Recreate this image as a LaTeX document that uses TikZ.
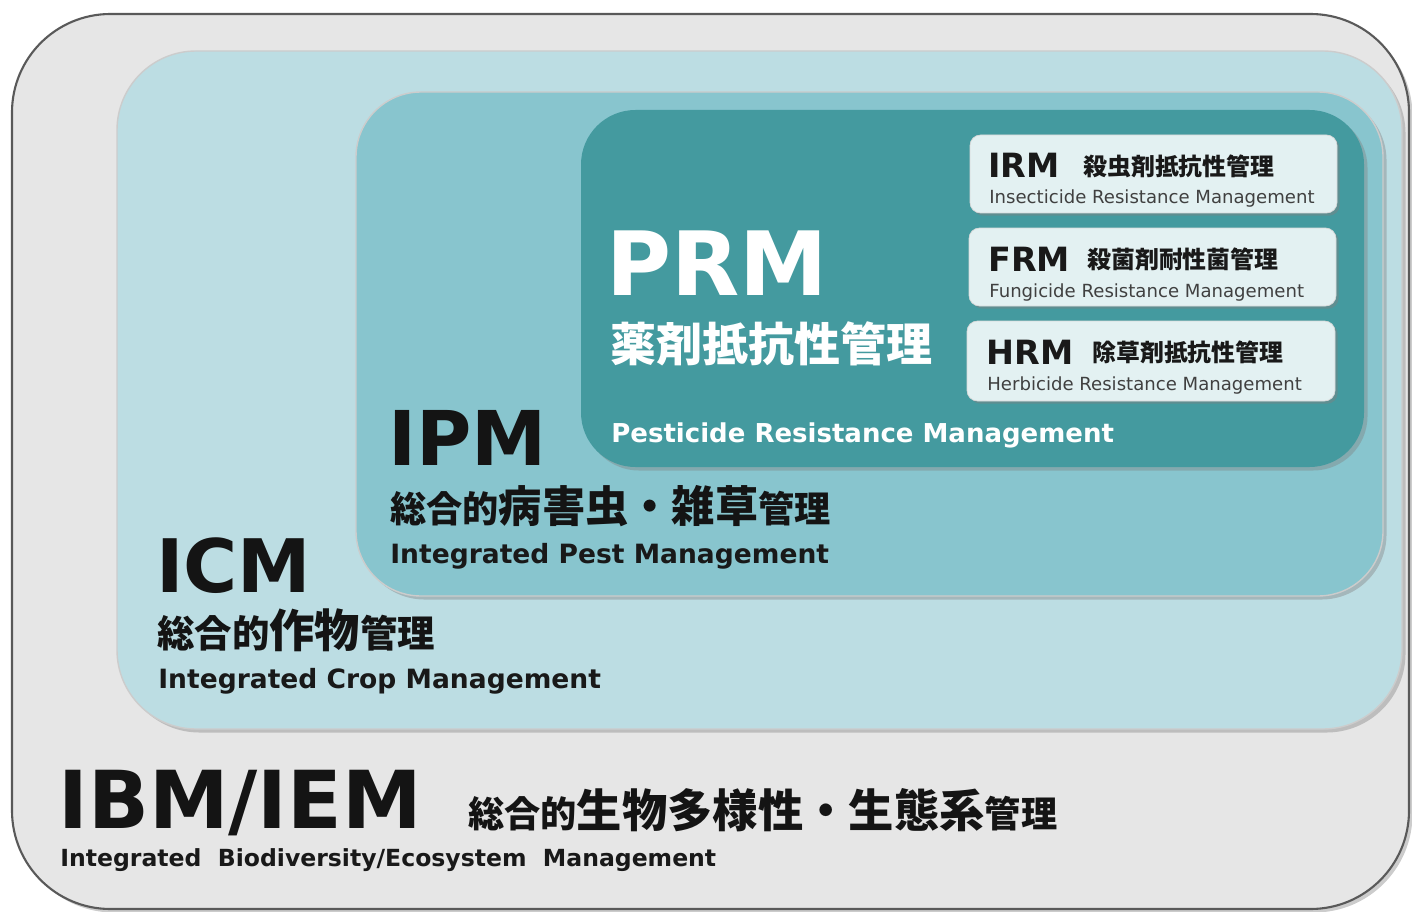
\documentclass[tikz,border=0pt]{standalone}
\usepackage{fontspec}
\setmainfont{DejaVu Sans}
\newfontfamily\jp{Noto Sans CJK JP}
\usetikzlibrary{shadows}

\definecolor{outerfill}{HTML}{E6E6E6}
\definecolor{icmfill}{HTML}{BCDDE3}
\definecolor{ipmfill}{HTML}{88C5CE}
\definecolor{prmfill}{HTML}{449A9F}
\definecolor{tagfill}{HTML}{E3F1F2}
\newcommand\fs[1]{\fontsize{#1}{#1}\selectfont}

\begin{document}
\begin{tikzpicture}[x=0.02cm, y=-0.02cm,
  every node/.style={inner sep=0pt, anchor=base west},
  layer/.style={rounded corners=#1, draw=black!20, line width=0.8pt,
    drop shadow={shadow xshift=2pt, shadow yshift=-2pt, opacity=0.4}},
  tagbox/.style={rounded corners=6pt, fill=tagfill, draw=black!15,
    drop shadow={shadow xshift=1.5pt, shadow yshift=-1.5pt, opacity=0.45}},
  tag/.style={font=\bfseries\fs{19}, text=black!90},
  tagjp/.style={font=\jp\bfseries\fs{13.6}, text=black!90},
  gloss/.style={font=\fs{10.3}, text=black!75},
  head/.style={font=\bfseries\fs{#1}, text=black!92},
  sub/.style={font=\bfseries\fs{15.1}, text=black!90},
  jpline/.style={font=\jp\bfseries, text=black!92}
  ]
  \useasboundingbox (0,0) rectangle (1412,912);

  % nested layers
  \draw[fill=outerfill, draw=black!65, line width=1.2pt, rounded corners=56pt,
    drop shadow={shadow xshift=2pt, shadow yshift=-2pt, opacity=0.4}]
    (12,14) rectangle (1409,909);
  \draw[layer=45pt, fill=icmfill] (117,51) rectangle (1402,729);
  \draw[layer=37pt, fill=ipmfill] (356,92) rectangle (1383,596);
  \draw[layer=31pt, fill=prmfill, draw=none] (581,110) rectangle (1364,467);

  % resistance boxes
  \draw[tagbox] (970,135) rectangle (1337,213);
  \draw[tagbox] (969,228) rectangle (1336,306);
  \draw[tagbox] (967,321) rectangle (1335,401);

  \node[tag] (irm) at (988,178) {IRM};
  \node[tagjp] (irmjp) at (1083,175) {殺虫剤抵抗性管理};
  \node[gloss] (irmen) at (989,204) {Insecticide Resistance Management};
  \node[tag] (frm) at (988,271) {FRM};
  \node[tagjp] (frmjp) at (1087,268) {殺菌剤耐性菌管理};
  \node[gloss] (frmen) at (989,297) {Fungicide Resistance Management};
  \node[tag] (hrm) at (986,364) {HRM};
  \node[tagjp] (hrmjp) at (1092,361) {除草剤抵抗性管理};
  \node[gloss] (hrmen) at (987,390) {Herbicide Resistance Management};

  % PRM
  \node[font=\bfseries\fs{50.5}, text=white] (prm) at (606,295) {PRM};
  \node[font=\jp\bfseries\fs{26.2}, text=white] (prmjp) at (610,361) {薬剤抵抗性管理};
  \node[font=\bfseries\fs{14.8}, text=white] (prmen) at (611,442) {Pesticide Resistance Management};

  % IPM
  \node[head=43] (ipm) at (388,465) {IPM};
  \node[jpline] (ipmjp) at (390,522) {{\fs{20.6}総合的}{\fs{24.6}病害虫・雑草}{\fs{20.6}管理}};
  \node[sub] (ipmen) at (390,563) {Integrated Pest Management};

  % ICM
  \node[head=42] (icm) at (156,592) {ICM};
  \node[jpline] (icmjp) at (157,647) {{\fs{21.3}総合的}{\fs{25.8}作物}{\fs{21.3}管理}};
  \node[sub] (icmen) at (158,688) {Integrated Crop Management};

  % IBM/IEM
  \node[head=45.5] (ibm) at (58,828) {IBM/IEM};
  \node[jpline] (ibmjp) at (468,827) {{\fs{20.6}総合的}{\fs{25.8}生物多様性・生態系}{\fs{20.6}管理}};
  \node[font=\bfseries\fs{13.4}, text=black!90] (ibmen) at (60,866) {Integrated\ \ Biodiversity/Ecosystem\ \ Management};
\end{tikzpicture}
\end{document}
